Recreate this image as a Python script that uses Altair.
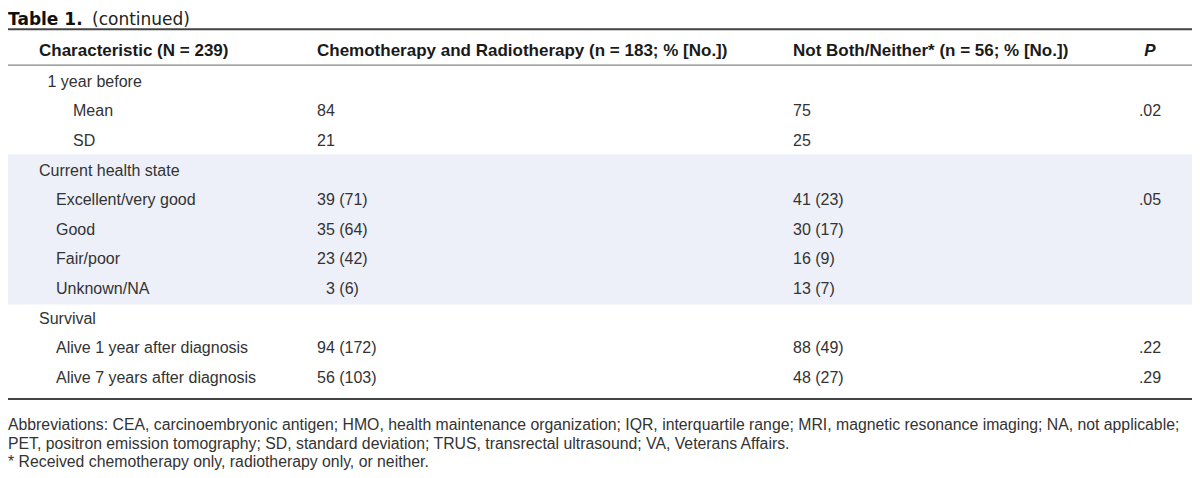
import altair as alt
import pandas as pd

# ---- table content ----
headers = ["Characteristic (N = 239)",
           "Chemotherapy and Radiotherapy (n = 183; % [No.])",
           "Not Both/Neither* (n = 56; % [No.])",
           "P"]
labels = ["1 year before", "Mean", "SD", "Current health state",
          "Excellent/very good", "Good", "Fair/poor", "Unknown/NA",
          "Survival", "Alive 1 year after diagnosis", "Alive 7 years after diagnosis"]
indent = [0.5, 2, 2, 0, 1, 1, 1, 1, 0, 1, 1]
chemo_radio = ["", "84", "21", "", "39 (71)", "35 (64)", "23 (42)", "3 (6)",
               "", "94 (172)", "56 (103)"]
not_both = ["", "75", "25", "", "41 (23)", "30 (17)", "16 (9)", "13 (7)",
            "", "88 (49)", "48 (27)"]
p_values = ["", ".02", "", "", ".05", "", "", "", "", ".22", ".29"]
shaded_rows = [3, 7]  # first and last row of shaded section
footnotes = [
    "Abbreviations: CEA, carcinoembryonic antigen; HMO, health maintenance organization; IQR, interquartile range; MRI, magnetic resonance imaging; NA, not applicable;",
    "PET, positron emission tomography; SD, standard deviation; TRUS, transrectal ultrasound; VA, Veterans Affairs.",
    "* Received chemotherapy only, radiotherapy only, or neither.",
]
title_bold = "Table 1."
title_rest = "(continued)"

W, H = 1184, 462
FONT = "Liberation Sans"

yscale = alt.Scale(domain=[0, 10], range=[73.7, 370.0])
colscale = alt.Scale(domain=[0, 1, 2, 3], range=[31, 309, 785, 1142])
indscale = alt.Scale(domain=[0, 1, 2], range=[31, 48, 65])

n = len(labels)
body = pd.DataFrame({"row": list(range(n)), "label": labels, "indent": indent})
cells = []
for i in range(n):
    cells.append({"row": i, "col": 1, "text": chemo_radio[i]})
    cells.append({"row": i, "col": 2, "text": not_both[i]})
cells = pd.DataFrame(cells)
# single-digit percentages are digit-aligned (padded by one figure width)
cells["pad"] = cells["text"].apply(lambda s: len(s.split(" ")[0]) == 1 if "(" in s else False)
pdf = pd.DataFrame({"row": list(range(n)), "col": 3, "text": p_values})
hdr = pd.DataFrame({"row": -1.05, "col": [0, 1, 2], "text": headers[:3]})
hdrp = pd.DataFrame({"row": [-1.05], "col": [3], "text": [headers[3]]})
band = pd.DataFrame({"y1": [shaded_rows[0] - 0.55], "y2": [shaded_rows[1] + 0.52]})
rules = pd.DataFrame({"row": [-1.77, -0.56, 10.71], "w": [2, 1, 2]})
foot = pd.DataFrame({"row": [11.59 + 0.625 * k for k in range(len(footnotes))],
                     "text": footnotes})
ttl = pd.DataFrame({"row": [-2.08], "a": [title_bold], "b": [title_rest]})

band_layer = alt.Chart(band).mark_rect(color="#edf0f8").encode(
    x=alt.value(0), x2=alt.value(W),
    y=alt.Y("y1:Q", scale=yscale, axis=None), y2="y2:Q")

thick = alt.Chart(rules).transform_filter("datum.w == 2").mark_rule(
    color="#444444", strokeWidth=2).encode(
    x=alt.value(0), x2=alt.value(W), y=alt.Y("row:Q", scale=yscale, axis=None))
thin = alt.Chart(rules).transform_filter("datum.w == 1").mark_rule(
    color="#666666", strokeWidth=1).encode(
    x=alt.value(0), x2=alt.value(W), y=alt.Y("row:Q", scale=yscale, axis=None))

label_layer = alt.Chart(body).mark_text(
    align="left", baseline="middle", font=FONT, fontSize=16, color="#333333").encode(
    x=alt.X("indent:Q", scale=indscale, axis=None),
    y=alt.Y("row:Q", scale=yscale, axis=None), text="label:N")

cell_layer = alt.Chart(cells).transform_filter("!datum.pad").mark_text(
    align="left", baseline="middle", font=FONT, fontSize=16, color="#333333").encode(
    x=alt.X("col:Q", scale=colscale, axis=None),
    y=alt.Y("row:Q", scale=yscale, axis=None), text="text:N")

cell_pad_layer = alt.Chart(cells).transform_filter("datum.pad").mark_text(
    align="left", baseline="middle", font=FONT, fontSize=16, color="#333333",
    dx=9).encode(
    x=alt.X("col:Q", scale=colscale, axis=None),
    y=alt.Y("row:Q", scale=yscale, axis=None), text="text:N")

p_layer = alt.Chart(pdf).mark_text(
    align="center", baseline="middle", font=FONT, fontSize=16, color="#333333").encode(
    x=alt.X("col:Q", scale=colscale, axis=None),
    y=alt.Y("row:Q", scale=yscale, axis=None), text="text:N")

hdr_layer = alt.Chart(hdr).mark_text(
    align="left", baseline="middle", font=FONT, fontSize=17, fontWeight="bold",
    color="#1a1a1a").encode(
    x=alt.X("col:Q", scale=colscale, axis=None),
    y=alt.Y("row:Q", scale=yscale, axis=None), text="text:N")

hdrp_layer = alt.Chart(hdrp).mark_text(
    align="center", baseline="middle", font=FONT, fontSize=17, fontWeight="bold",
    fontStyle="italic", color="#1a1a1a").encode(
    x=alt.X("col:Q", scale=colscale, axis=None),
    y=alt.Y("row:Q", scale=yscale, axis=None), text="text:N")

foot_layer = alt.Chart(foot).mark_text(
    align="left", baseline="middle", font=FONT, fontSize=15.8, color="#333333").encode(
    x=alt.value(0),
    y=alt.Y("row:Q", scale=yscale, axis=None), text="text:N")

title_a = alt.Chart(ttl).mark_text(
    align="left", baseline="middle", font="DejaVu Sans", fontSize=17,
    fontWeight="bold", color="#111111").encode(
    x=alt.value(0), y=alt.Y("row:Q", scale=yscale, axis=None), text="a:N")
title_b = alt.Chart(ttl).mark_text(
    align="left", baseline="middle", font="DejaVu Sans", fontSize=17,
    color="#222222").encode(
    x=alt.value(84), y=alt.Y("row:Q", scale=yscale, axis=None), text="b:N")

chart = alt.layer(
    band_layer, thick, thin, label_layer, cell_layer, cell_pad_layer, p_layer,
    hdr_layer, hdrp_layer, foot_layer, title_a, title_b
).resolve_scale(x="independent").properties(
    width=W, height=H, padding=0, autosize=alt.AutoSizeParams(type="none")
).configure_view(stroke=None)

chart.save("out.html", embed_options={"renderer": "svg", "actions": False})
